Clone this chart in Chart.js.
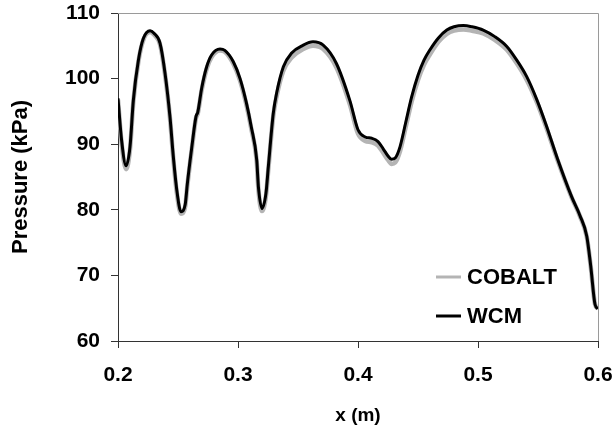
<!DOCTYPE html>
<html>
<head>
<meta charset="utf-8">
<script src="https://cdn.jsdelivr.net/npm/chart.js@4.4.1/dist/chart.umd.min.js"></script>
<style>
    html, body { margin: 0; padding: 0; background: #fff; }
    #wrap { width: 613px; height: 430px; }
</style>
</head>
<body>
<div id="wrap"><canvas id="chart" width="613" height="430"></canvas></div>
<script>
// Pressure profiles along x, two solvers
const xValues = [
    0.200, 0.203, 0.2067, 0.210, 0.2128, 0.217, 0.2211, 0.2267, 0.230, 0.235,
    0.2392, 0.2433, 0.2461, 0.2490, 0.2525, 0.2560, 0.2578, 0.2614, 0.2650, 0.2665,
    0.2697, 0.2739, 0.278, 0.285, 0.289, 0.296, 0.3017, 0.307, 0.311, 0.3156,
    0.317, 0.320, 0.3233, 0.3253, 0.3294, 0.3322, 0.3378, 0.3447, 0.3544, 0.3625,
    0.371, 0.382, 0.3933, 0.400, 0.406, 0.4114, 0.4167, 0.421, 0.425, 0.428,
    0.431, 0.435, 0.440, 0.4447, 0.450, 0.455, 0.460, 0.467, 0.474, 0.480,
    0.4878, 0.495, 0.5044, 0.514, 0.524, 0.532, 0.5406, 0.549, 0.5572, 0.566,
    0.578, 0.585, 0.5906, 0.5939, 0.5975, 0.600
];

const wcmValues = [
    97.0, 90.6, 86.7, 89.6, 96.7, 102.8, 106.1, 107.3, 106.9, 105.4,
    100.8, 94.2, 88.1, 83.0, 79.7, 80.8, 84.0, 89.4, 94.2, 94.9,
    98.5, 101.8, 103.6, 104.5, 104.3, 102.6, 100.0, 96.3, 92.7, 87.6,
    83.5, 80.2, 82.5, 86.6, 94.7, 97.8, 101.8, 103.9, 105.1, 105.6,
    105.1, 102.3, 96.6, 92.2, 91.1, 90.9, 90.4, 89.3, 88.2, 87.7,
    87.9, 89.6, 93.5, 97.2, 100.5, 102.8, 104.4, 106.2, 107.4, 107.9,
    108.1, 107.9, 107.4, 106.4, 104.9, 102.9, 100.3, 96.8, 92.7, 87.9,
    82.0, 79.1, 76.0, 71.5, 65.6, 64.9
];

const cobaltValues = [
    96.8, 90.2, 86.2, 89.2, 96.5, 102.6, 105.9, 107.1, 106.7, 105.2,
    100.6, 94.0, 87.8, 82.6, 79.4, 80.5, 83.7, 89.1, 94.0, 94.7,
    98.2, 101.5, 103.3, 104.3, 104.1, 102.3, 99.7, 96.0, 92.4, 87.3,
    83.1, 79.8, 82.1, 86.2, 94.3, 97.3, 101.2, 103.2, 104.5, 105.0,
    104.5, 101.7, 96.0, 91.6, 90.5, 90.3, 89.8, 88.7, 87.6, 87.0,
    87.2, 88.9, 92.8, 96.5, 99.8, 102.1, 103.7, 105.6, 106.8, 107.3,
    107.5, 107.3, 106.9, 105.9, 104.4, 102.4, 99.8, 96.4, 92.4, 87.7,
    81.9, 79.0, 75.9, 71.4, 65.6, 64.9
];

const xTicks = [0.2, 0.3, 0.4, 0.5, 0.6];
const yTicks = [60, 70, 80, 90, 100, 110];

const toPoints = (ys) => ys.map((y, i) => ({ x: xValues[i], y }));

const FONT = "Arial, 'Liberation Sans', Helvetica, sans-serif";
Chart.defaults.font.family = FONT;
Chart.defaults.color = '#000';

// frame on the top and right of the plot
const framePlugin = {
    id: 'frame',
    afterDraw(chart) {
        const { ctx, chartArea: a } = chart;
        ctx.save();
        ctx.strokeStyle = '#9a9a9a';
        ctx.lineWidth = 1;
        ctx.beginPath();
        ctx.moveTo(a.left, a.top + 0.5);
        ctx.lineTo(a.right + 0.5, a.top + 0.5);
        ctx.lineTo(a.right + 0.5, a.bottom);
        ctx.stroke();
        ctx.restore();
    }
};

// legend box sitting inside the plot, lower right
const innerLegend = {
    id: 'innerLegend',
    afterDatasetsDraw(chart) {
        const { ctx } = chart;
        const x0 = 436, rowY = [277, 316];
        ctx.save();
        ctx.font = 'bold 22px ' + FONT;
        ctx.textBaseline = 'middle';
        chart.data.datasets.forEach((ds, i) => {
            const y = rowY[i];
            ctx.strokeStyle = ds.borderColor;
            ctx.lineWidth = ds.legendWidth;
            ctx.beginPath();
            ctx.moveTo(x0, y);
            ctx.lineTo(x0 + 25, y);
            ctx.stroke();
            ctx.fillStyle = '#000';
            ctx.fillText(ds.label, x0 + 31, y + 1);
        });
        ctx.restore();
    }
};

// keep tick labels from pushing the plot area inward
const noOverflow = (scale) => {
    scale.paddingTop = 0;
    scale.paddingBottom = 0;
    scale.paddingLeft = 0;
    scale.paddingRight = 0;
};

new Chart(document.getElementById('chart'), {
    type: 'line',
    data: {
        datasets: [
            {
                label: 'COBALT',
                data: toPoints(cobaltValues),
                borderColor: '#b4b4b4',
                borderWidth: 4.5,
                legendWidth: 3,
                order: 1
            },
            {
                label: 'WCM',
                data: toPoints(wcmValues),
                borderColor: '#000',
                borderWidth: 3,
                legendWidth: 3,
                order: 0
            }
        ]
    },
    options: {
        responsive: false,
        animation: false,
        layout: { padding: { top: 13, right: 15, left: 0, bottom: 0 } },
        elements: {
            point: { radius: 0 },
            line: { cubicInterpolationMode: 'monotone', fill: false, borderJoinStyle: 'round' }
        },
        plugins: {
            legend: { display: false },
            tooltip: { enabled: false }
        },
        scales: {
            x: {
                type: 'linear',
                min: 0.2,
                max: 0.6,
                afterBuildTicks: (scale) => { scale.ticks = xTicks.map(v => ({ value: v })); },
                afterFit: (scale) => { scale.height = 89; noOverflow(scale); },
                ticks: {
                    padding: 15,
                    font: { size: 21, weight: 'bold' },
                    callback: (v) => v.toFixed(1)
                },
                grid: { drawOnChartArea: false, tickLength: 7, color: '#333' },
                border: { color: '#333', width: 1 },
                title: {
                    display: true,
                    text: 'x (m)',
                    font: { size: 19, weight: 'bold' },
                    padding: { top: 0, bottom: 3 }
                }
            },
            y: {
                min: 60,
                max: 110,
                afterBuildTicks: (scale) => { scale.ticks = yTicks.map(v => ({ value: v })); },
                afterFit: (scale) => { scale.width = 118; noOverflow(scale); },
                ticks: {
                    padding: 11,
                    font: { size: 21, weight: 'bold' }
                },
                grid: { drawOnChartArea: false, tickLength: 7, color: '#333' },
                border: { color: '#333', width: 1 },
                title: {
                    display: true,
                    text: 'Pressure (kPa)',
                    font: { size: 22, weight: 'bold' },
                    padding: { top: 8, bottom: 0 }
                }
            }
        }
    },
    plugins: [framePlugin, innerLegend]
});
</script>
</body>
</html>
